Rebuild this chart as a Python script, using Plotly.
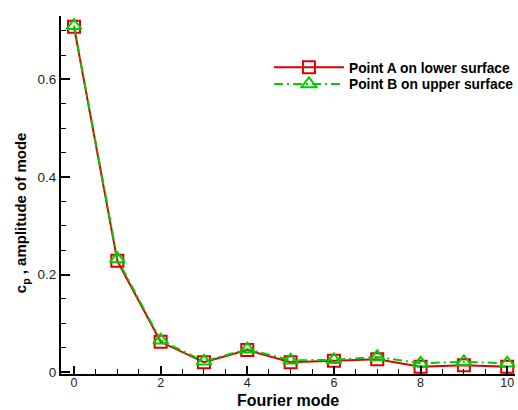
import plotly.graph_objects as go

modes = list(range(11))
point_a = [0.708, 0.228, 0.062, 0.020, 0.045, 0.020, 0.023, 0.026, 0.011, 0.014, 0.011]
point_b = [0.710, 0.232, 0.065, 0.022, 0.047, 0.024, 0.025, 0.031, 0.018, 0.021, 0.018]
name_a = "Point A on lower surface"
name_b = "Point B on upper surface"
y_ticks = [0, 0.2, 0.4, 0.6]
y_tick_text = ["0", "0.2", "0.4", "0.6"]
x_ticks = [0, 2, 4, 6, 8, 10]

FONT = "Liberation Sans, Arial, Helvetica, sans-serif"

fig = go.Figure()
fig.add_trace(go.Scatter(
    x=modes, y=point_a, name=name_a, mode="lines+markers", legend="legend",
    line=dict(color="#dd0000", width=2),
    marker=dict(symbol="square-open", size=12, color="#dd0000", line=dict(width=2)),
))
fig.add_trace(go.Scatter(
    x=modes, y=point_b, name=name_b, mode="lines+markers", legend="legend2",
    line=dict(color="#00cc00", width=2, dash="9px,4px,2px,4px"),
    marker=dict(symbol="triangle-up-open", size=13, color="#00cc00", line=dict(width=2)),
))

legend_common = dict(
    xanchor="left", yanchor="middle",
    bgcolor="rgba(0,0,0,0)", itemwidth=70,
    font=dict(family=FONT, size=13.8, color="black", weight="bold"),
)

fig.update_layout(
    width=518, height=410,
    margin=dict(l=61, r=3, t=16, b=36, autoexpand=False),
    paper_bgcolor="white", plot_bgcolor="white",
    font=dict(family=FONT, size=13, color="#222"),
    showlegend=True,
    legend=dict(x=0.458, y=0.857, **legend_common),
    legend2=dict(x=0.458, y=0.810, **legend_common),
    xaxis=dict(
        range=[-0.3, 10.18], showgrid=False, zeroline=False, automargin=False,
        showline=True, linecolor="black", linewidth=2, mirror=False,
        ticks="inside", ticklen=8, tickwidth=2, tickcolor="black",
        tickvals=x_ticks, tickfont=dict(size=12.5, color="#222"),
        ticklabelstandoff=-4,
        minor=dict(dtick=0.5, tick0=0, ticks="inside", ticklen=5, tickwidth=1, tickcolor="black"),
    ),
    yaxis=dict(
        range=[-0.004, 0.730], showgrid=False, zeroline=False, automargin=False,
        showline=True, linecolor="black", linewidth=2, mirror=False,
        ticks="inside", ticklen=9, tickwidth=2, tickcolor="black",
        tickvals=y_ticks, ticktext=y_tick_text, tickfont=dict(size=13.5, color="#222"),
        minor=dict(dtick=0.05, tick0=0, ticks="inside", ticklen=5, tickwidth=1, tickcolor="black"),
    ),
    annotations=[
        dict(text="Fourier mode", xref="paper", yref="paper", x=0.5, y=-0.074,
             xanchor="center", yanchor="middle", showarrow=False,
             font=dict(family=FONT, size=16, color="black", weight="bold")),
        dict(text="c<sub>p</sub> , amplitude of mode", xref="paper", yref="paper",
             x=-0.06, y=0.45, xanchor="right", yanchor="middle", textangle=-90,
             showarrow=False,
             font=dict(family=FONT, size=15, color="black", weight="bold")),
    ],
)

fig.write_html("out.html")
